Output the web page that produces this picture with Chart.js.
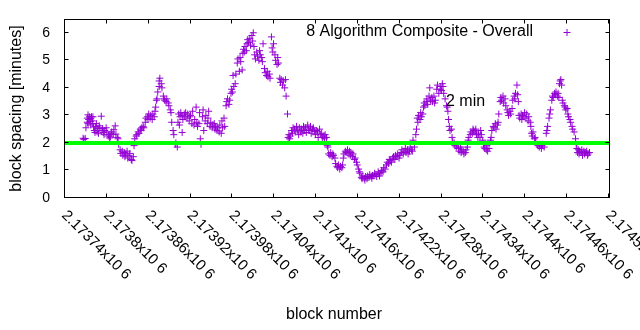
<!DOCTYPE html>
<html>
<head>
<meta charset="utf-8">
<script src="https://cdn.jsdelivr.net/npm/chart.js@4.4.1/dist/chart.umd.min.js"></script>
<style>
  body { margin: 0; background: #fff; }
  canvas { display: block; }
</style>
</head>
<body>
<canvas id="myChart" width="640" height="330"></canvas>
<script>
// block heights are stored as offsets from the first tick of the x axis
const BASE_BLOCK = 2173740;

const blockOffset = [
  26,27,29,30,32,32,33,33,34,35,36,37,37,38,39,40,40,41,42,43,44,45,46,47,48,49,50,52,53,54,55,56,57,59,60,62,63,64,65,66,67,69,70,72,73,75,76,
  77,79,80,82,83,85,86,87,89,90,92,93,95,96,98,99,
  100,102,103,105,106,108,109,110,112,113,115,116,118,119,120,122,123,125,126,128,129,130,
  131,132,133,135,135,136,138,139,141,142,143,145,146,148,149,151,152,153,155,156,158,159,161,
  162,163,164,165,166,168,168,169,171,172,173,175,176,178,179,180,182,183,185,186,188,189,190,192,193,194,195,
  197,198,199,201,202,204,205,206,208,209,211,212,214,215,216,218,219,221,222,224,225,226,228,229,
  231,232,233,235,236,238,239,240,241,242,244,245,247,248,250,251,252,254,
  255,256,257,258,260,261,262,263,265,266,268,269,270,271,272,273,275,276,278,279,280,282,283,284,
  286,287,289,290,291,293,294,296,297,298,299,301,302,304,305,306,308,309,310,312,313,315,316,317,319,320,321,
  322,323,325,326,327,329,330,332,333,335,336,338,339,341,342,343,345,346,348,349,351,352,353,355,356,358,359,361,362,363,365,366,368,369,371,372,373,375,376,
  377,378,380,381,383,384,385,387,388,390,391,392,394,395,397,398,
  399,400,402,403,405,406,408,409,410,412,413,415,416,418,419,
  421,422,423,425,426,427,429,430,431,433,434,436,437,439,440,441,443,444,446,447,449,450,451,453,454,456,457,459,
  461,462,464,465,467,468,470,471,473,474,476,477,479,480,482,483,485,486,488,489,491,492,494,495,497,498,499,501,
  503,504,505,506,507,509,510,511,513,514,515,516,518,519,520,522,523,524,526,527,529,530,531,533,534,536,538,539,540,541,542,543,545,547,
  548,549,550,551,552,554,555,556,558,559,561,562,564,565,567,568,569,571,572,574,575,577,
  578,579,581,582,584,585,586,588,589,590,592,593,595,596,597,599,600,601,602,604,605,606,608,
  610,611,612,614,615,617,618,620,621,622,624,625,626,628,629,631,632,634,635,636,638,639,641,642,644,645,646,648,649,650,651,652,654,655,656,658,659,661,662,664,665,667,668,
  669,670,671,673,674,675,677,678,680,681,683,684,685,687,
  690,691,692,694,695,696,698,699,700,702,703,704,706,707,708,709,710,711,712,713,714,716,717,718,720,721,722,724,725,727,728,730,732,733,
  734,735,736,737,738,740,741,742,744,745,746,748,749,750,752
];

const spacingMinutes = [
  2.17,2.13,2.16,2.55,2.75,2.9,3.02,2.7,2.85,2.95,2.78,2.88,2.65,2.95,2.8,2.7,2.95,2.58,2.45,2.38,2.6,2.7,2.4,2.52,2.35,2.62,2.55,2.97,2.45,2.52,2.38,2.3,2.45,2.55,2.4,2.25,2.3,2.18,2.22,2.35,2.4,2.3,2.48,2.62,2.32,2.2,2.15,
  1.95,1.75,1.62,1.7,1.55,1.65,1.5,1.6,1.7,1.45,1.55,1.62,1.4,1.36,1.5,1.9,
  2.15,2.25,2.3,2.4,2.35,2.5,2.45,2.55,2.6,2.55,2.75,2.9,2.95,2.85,3.05,2.9,3.0,2.85,3.05,2.95,3.15,3.3,
  3.55,3.6,3.85,4.05,4.25,4.35,4.15,4.0,3.7,3.6,3.55,3.5,3.6,3.45,3.35,3.2,3.1,2.75,2.45,2.3,1.95,2.0,1.85,
  2.75,3.05,2.65,2.95,3.1,3.0,2.38,2.85,3.05,2.95,3.1,2.9,3.05,2.8,2.95,3.0,2.7,3.15,2.65,2.85,3.3,2.75,2.6,2.7,3.1,2.15,1.95,
  2.95,3.2,2.45,2.8,3.0,2.7,2.9,3.15,2.6,2.75,2.55,2.65,2.7,2.5,2.6,2.45,2.55,2.4,2.65,2.35,2.8,2.55,2.9,2.6,
  3.35,3.5,3.6,3.4,3.55,3.8,3.95,3.85,4.45,4.05,4.15,4.5,4.9,5.05,4.6,5.1,4.95,4.65,
  5.25,5.4,5.3,5.5,5.35,5.6,5.75,5.65,5.8,5.55,5.9,5.7,6.0,5.5,5.2,5.05,5.3,5.15,5.0,5.35,5.2,5.1,4.95,5.6,
  4.7,4.55,4.45,4.6,4.4,4.5,4.35,5.85,5.45,5.3,5.6,5.2,5.0,4.85,5.1,4.9,4.35,4.2,4.3,4.1,4.25,4.0,4.3,3.7,3.05,2.2,2.3,
  2.15,2.25,2.45,2.35,2.55,2.5,2.4,2.6,2.45,2.3,2.55,2.4,2.5,2.35,2.6,2.45,2.55,2.38,2.65,2.5,2.45,2.6,2.35,2.5,2.55,2.42,2.3,2.45,2.4,2.2,2.5,2.3,2.35,2.2,2.25,2.15,2.3,2.2,1.9,
  1.85,1.6,1.55,1.65,1.5,1.6,1.55,1.45,1.25,1.15,1.1,1.2,1.05,1.15,1.1,1.2,
  1.45,1.6,1.7,1.65,1.75,1.6,1.7,1.55,1.65,1.5,1.6,1.4,1.45,1.3,1.2,
  1.05,0.95,0.9,0.75,0.7,0.8,0.72,0.65,0.78,0.7,0.8,0.75,0.85,0.78,0.72,0.82,0.8,0.9,0.85,0.78,0.95,0.88,0.8,0.92,1.0,0.95,1.1,1.05,
  1.2,1.3,1.25,1.4,1.35,1.3,1.45,1.5,1.4,1.55,1.5,1.6,1.45,1.55,1.65,1.75,1.6,1.7,1.8,1.65,1.75,1.6,1.7,1.85,1.75,1.7,2.1,1.85,
  2.3,2.5,2.9,2.75,3.0,2.85,3.1,2.95,3.05,3.3,3.45,3.35,3.5,3.6,3.4,3.7,4.0,3.55,3.65,3.5,3.7,3.45,3.55,3.95,4.1,3.8,3.95,4.05,3.9,4.15,4.05,3.8,3.6,3.35,
  3.3,3.15,2.85,2.6,2.45,2.5,2.2,2.05,2.0,1.9,1.85,1.95,1.8,1.7,1.85,1.65,1.75,1.7,1.6,1.65,1.75,1.85,
  2.1,2.2,2.3,2.4,2.35,2.5,2.45,2.4,2.5,2.3,2.2,2.35,2.2,2.45,2.3,2.1,1.95,1.85,1.8,1.75,1.9,1.7,1.8,
  2.1,2.2,2.45,2.6,2.55,2.7,2.5,2.65,2.75,3.05,3.5,3.65,3.55,3.7,3.45,3.6,3.35,3.2,3.1,3.0,3.15,3.05,3.25,3.55,3.7,3.6,3.8,4.1,3.75,3.5,3.0,2.9,3.05,2.85,3.0,2.95,3.1,2.9,3.05,2.8,2.95,2.75,2.6,
  2.35,2.25,2.4,2.15,2.2,2.05,1.95,1.9,1.85,1.95,1.8,1.9,1.95,1.85,
  2.35,2.45,2.6,2.9,3.05,3.2,3.55,3.7,3.65,3.8,3.75,3.85,3.7,3.8,3.65,4.15,4.25,4.3,4.1,3.55,3.45,3.35,3.3,3.2,3.25,3.05,2.95,2.85,2.75,2.6,2.5,2.4,2.15,1.95,
  1.8,1.65,1.75,1.6,1.7,1.65,1.75,1.55,1.7,1.6,1.65,1.7,1.55,1.6,1.65
];

const xTickBlocks = [2173740, 2173800, 2173860, 2173920, 2173980, 2174040, 2174100,
                     2174160, 2174220, 2174280, 2174340, 2174400, 2174460, 2174520];
const xTickLabels = ['2.17374x10 6', '2.1738x10 6', '2.17386x10 6', '2.17392x10 6', '2.17398x10 6',
                     '2.17404x10 6', '2.1741x10 6', '2.17416x10 6', '2.17422x10 6', '2.17428x10 6',
                     '2.17434x10 6', '2.1744x10 6', '2.17446x10 6', '2.17452x10 6'];
const yTicks = [0, 1, 2, 3, 4, 5, 6];

const seriesName = '8 Algorithm Composite - Overall';
const targetMinutes = 2;
const targetLabel = '2 min';

if (blockOffset.length !== spacingMinutes.length) {
    console.warn('block/spacing length mismatch', blockOffset.length, spacingMinutes.length);
}

const points = blockOffset.map((b, i) => ({ x: BASE_BLOCK + b, y: spacingMinutes[i] }));
const purple = '#9400d3';
const FONT = '"Liberation Sans", Arial, sans-serif';

// box, inward ticks on all four sides, and the text around the plot
const gnuplotFrame = {
    id: 'gnuplotFrame',
    afterDatasetsDraw(chart) {
        const { ctx, chartArea: a, scales: { x, y } } = chart;
        const left = a.left - 0.5, right = a.right + 0.5, top = a.top + 0.5, bottom = a.bottom - 0.5;
        ctx.save();
        ctx.strokeStyle = '#000';
        ctx.lineWidth = 1;
        ctx.strokeRect(left, top, right - left, bottom - top);

        ctx.beginPath();
        yTicks.forEach(v => {
            const py = Math.floor(y.getPixelForValue(v) - 0.5) + 0.5;
            ctx.moveTo(left, py); ctx.lineTo(left + 4, py);
            ctx.moveTo(right, py); ctx.lineTo(right - 4, py);
        });
        xTickBlocks.forEach(v => {
            const px = Math.round(x.getPixelForValue(v)) - 0.5;
            ctx.moveTo(px, bottom); ctx.lineTo(px, bottom - 4);
            ctx.moveTo(px, top); ctx.lineTo(px, top + 4);
        });
        ctx.stroke();

        ctx.fillStyle = '#000';
        ctx.font = '14px ' + FONT;
        ctx.textAlign = 'right';
        ctx.textBaseline = 'middle';
        yTicks.forEach(v => ctx.fillText(String(v), 50, y.getPixelForValue(v)));

        ctx.font = '15px ' + FONT;
        ctx.textAlign = 'left';
        xTickBlocks.forEach((v, i) => {
            ctx.save();
            ctx.translate(x.getPixelForValue(v) - 1, 213);
            ctx.rotate(Math.PI / 4);
            ctx.fillText(xTickLabels[i], 0, 0);
            ctx.restore();
        });

        ctx.font = '16px ' + FONT;
        ctx.textAlign = 'center';
        ctx.fillText('block number', (a.left + a.right) / 2 - 3, 315);
        ctx.save();
        ctx.translate(17, (a.top + a.bottom) / 2);
        ctx.rotate(-Math.PI / 2);
        ctx.fillText('block spacing [minutes]', 0, 0);
        ctx.restore();

        // key in the top right corner, sample to the right of the text
        ctx.textAlign = 'right';
        ctx.fillText(seriesName, 533, 32);
        ctx.strokeStyle = purple;
        ctx.beginPath();
        ctx.moveTo(563.5, 32.5); ctx.lineTo(570.5, 32.5);
        ctx.moveTo(567, 29); ctx.lineTo(567, 36);
        ctx.stroke();

        ctx.textAlign = 'left';
        ctx.fillStyle = '#000';
        ctx.fillText(targetLabel, 446, 102);
        ctx.restore();
    }
};

const ctx = document.getElementById('myChart').getContext('2d');
const myChart = new Chart(ctx, {
    type: 'scatter',
    data: {
        datasets: [{
            type: 'line',
            label: targetLabel,
            data: [{ x: xTickBlocks[0], y: targetMinutes }, { x: xTickBlocks[xTickBlocks.length - 1], y: targetMinutes }],
            borderColor: '#00ff00',
            borderWidth: 4,
            pointRadius: 0
        }, {
            label: seriesName,
            data: points,
            pointStyle: 'cross',
            pointRadius: 3.5,
            borderColor: purple,
            backgroundColor: purple,
            borderWidth: 1
        }]
    },
    options: {
        responsive: false,
        devicePixelRatio: 1,
        animation: false,
        events: [],
        layout: { padding: { top: 19, right: 31, left: 0, bottom: 0 } },
        plugins: { legend: { display: false }, tooltip: { enabled: false } },
        scales: {
            x: {
                type: 'linear',
                min: xTickBlocks[0],
                max: xTickBlocks[xTickBlocks.length - 1],
                grid: { display: false },
                border: { display: false },
                ticks: { display: false },
                afterBuildTicks: s => { s.ticks = xTickBlocks.map(v => ({ value: v })); },
                afterFit: s => { s.height = 132; }
            },
            y: {
                min: 0,
                max: 6.5,
                grid: { display: false },
                border: { display: false },
                ticks: { display: false },
                afterBuildTicks: s => { s.ticks = yTicks.map(v => ({ value: v })); },
                afterFit: s => { s.width = 65; }
            }
        }
    },
    plugins: [gnuplotFrame]
});
</script>
</body>
</html>
